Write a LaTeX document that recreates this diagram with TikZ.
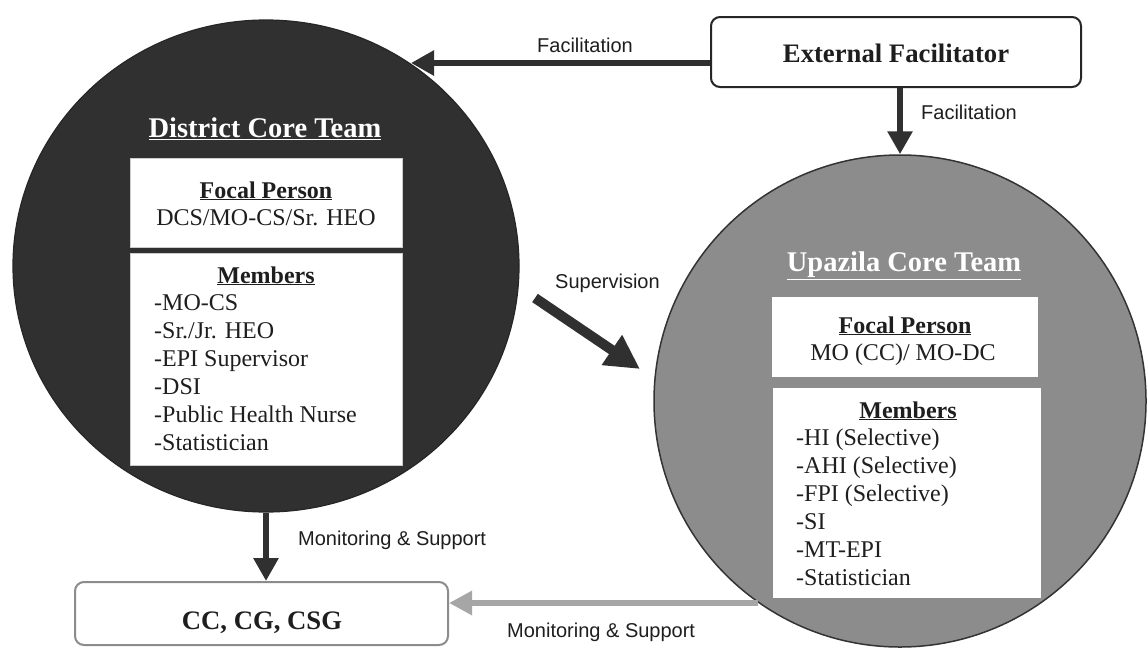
\documentclass[tikz,border=0pt]{standalone}
\usepackage{fontspec}
\setmainfont{Liberation Serif}
\newfontfamily\myLabFont{Liberation Sans}
\usetikzlibrary{arrows.meta,shapes.geometric}
\definecolor{darkfill}{HTML}{303030}
\definecolor{greyfill}{HTML}{8C8C8C}
\definecolor{arrc}{HTML}{303030}
\definecolor{greyarr}{HTML}{A6A6A6}
\definecolor{txt}{HTML}{1E1E1E}
\newcommand\myBody{\fontsize{24}{28}\selectfont}
\newcommand\myTitle{\fontsize{28.5}{32}\selectfont\bfseries}
\newcommand\myBoxT{\fontsize{26.7}{30}\selectfont\bfseries}
\newcommand\myLab{\myLabFont\fontsize{20}{24}\selectfont}
\tikzset{
  innerbox/.style={draw=black!20, line width=0.8pt, fill=white, inner sep=0pt},
  rbox/.style={rounded corners=9pt, fill=white, inner sep=0pt},
  bodytxt/.style={anchor=base west, inner sep=0pt, text=txt, font=\myBody},
  headtxt/.style={anchor=base, inner sep=0pt, text=txt, font=\myBody},
  titletxt/.style={anchor=base, inner sep=0pt, text=white, font=\myTitle},
  labtxt/.style={anchor=base west, inner sep=0pt, text=txt, font=\myLab},
  darkarrow/.style={draw=arrc, line width=6.5pt, -{Triangle[length=23pt,width=24pt]}},
  bigarrow/.style={draw=arrc, line width=10pt, -{Triangle[length=34pt,width=34pt]}},
  greyarrow/.style={draw=greyarr, line width=6pt, -{Triangle[length=23pt,width=23pt]}}
}
\begin{document}
\begin{tikzpicture}[x=1pt,y=-1pt]
\useasboundingbox[fill=white] (0,0) rectangle (1147,648);

% circles
\node[ellipse, draw=black!85, line width=1.2pt, fill=darkfill, minimum width=506pt, minimum height=492pt, inner sep=0pt] (dct) at (266,266) {};
\node[ellipse, draw=black!80, line width=1.5pt, fill=greyfill, minimum width=492pt, minimum height=492pt, inner sep=0pt] (uct) at (900,401) {};

% boxes
\node[rbox, draw=black!85, line width=2pt, minimum width=370pt, minimum height=70pt] (ef) at (896,52) {};
\node[anchor=base, inner sep=0pt, text=txt, font=\myBoxT] (eft) at (896,62) {External Facilitator};
\node[rbox, draw=black!45, line width=2pt, minimum width=373pt, minimum height=63pt] (cc) at (261.5,613.5) {};
\node[anchor=base, inner sep=0pt, text=txt, font=\myBoxT] (cct) at (262,629) {CC, CG, CSG};

% district inner
\node[titletxt] (dtitle) at (265,137.5) {\underline{District Core Team}};
\node[innerbox, minimum width=272pt, minimum height=89pt] (dfocal) at (266,202.5) {};
\node[headtxt] (dfh) at (266,198) {\bfseries\underline{Focal Person}};
\node[headtxt] (dfp) at (266,225) {DCS/MO-CS/Sr. HEO};
\node[innerbox, minimum width=272pt, minimum height=212pt] (dmem) at (266,359) {};
\node[headtxt] (dmh) at (266,283) {\bfseries\underline{Members}};
\foreach \t [count=\i from 0] in {-MO-CS,-Sr./Jr. HEO,-EPI Supervisor,-DSI,-Public Health Nurse,-Statistician}
  \node[bodytxt] (dm\i) at (154,310+28*\i) {\t};

% upazila inner
\node[titletxt] (utitle) at (904,271.5) {\underline{Upazila Core Team}};
\node[innerbox, draw=none, minimum width=266pt, minimum height=80pt] (ufocal) at (905,337) {};
\node[headtxt] (ufh) at (905,333) {\bfseries\underline{Focal Person}};
\node[headtxt] (ufp) at (903,360) {MO (CC)/ MO-DC};
\node[innerbox, draw=none, minimum width=268pt, minimum height=210pt] (umem) at (907,493) {};
\node[headtxt] (umh) at (908,418) {\bfseries\underline{Members}};
\foreach \t [count=\i from 0] in {-HI (Selective),-AHI (Selective),-FPI (Selective),-SI,-MT-EPI,-Statistician}
  \node[bodytxt] (um\i) at (796,445+28*\i) {\t};

% connectors
\coordinate (fend) at (411,63);
\draw[darkarrow] ([yshift=-11pt]ef.west) -- (fend);
\node[labtxt] (lf1) at (537,52) {Facilitation};

\draw[darkarrow] (ef.south -| uct.north) -- (uct.north);
\node[labtxt] (lf2) at (921,119) {Facilitation};

\coordinate (s1) at (535,298);
\coordinate (s2) at (640,369);
\draw[bigarrow] (s1) -- (s2);
\node[labtxt] (lsup) at (555,288) {Supervision};

\draw[darkarrow] (dct.south) -- (dct.south |- cc.north);
\node[labtxt] (lm1) at (298,545) {Monitoring \& Support};

\coordinate (g1) at (758,603);
\draw[greyarrow] (g1) -- (g1 -| cc.east);
\node[labtxt] (lm2) at (507,637) {Monitoring \& Support};
\end{tikzpicture}
\end{document}
